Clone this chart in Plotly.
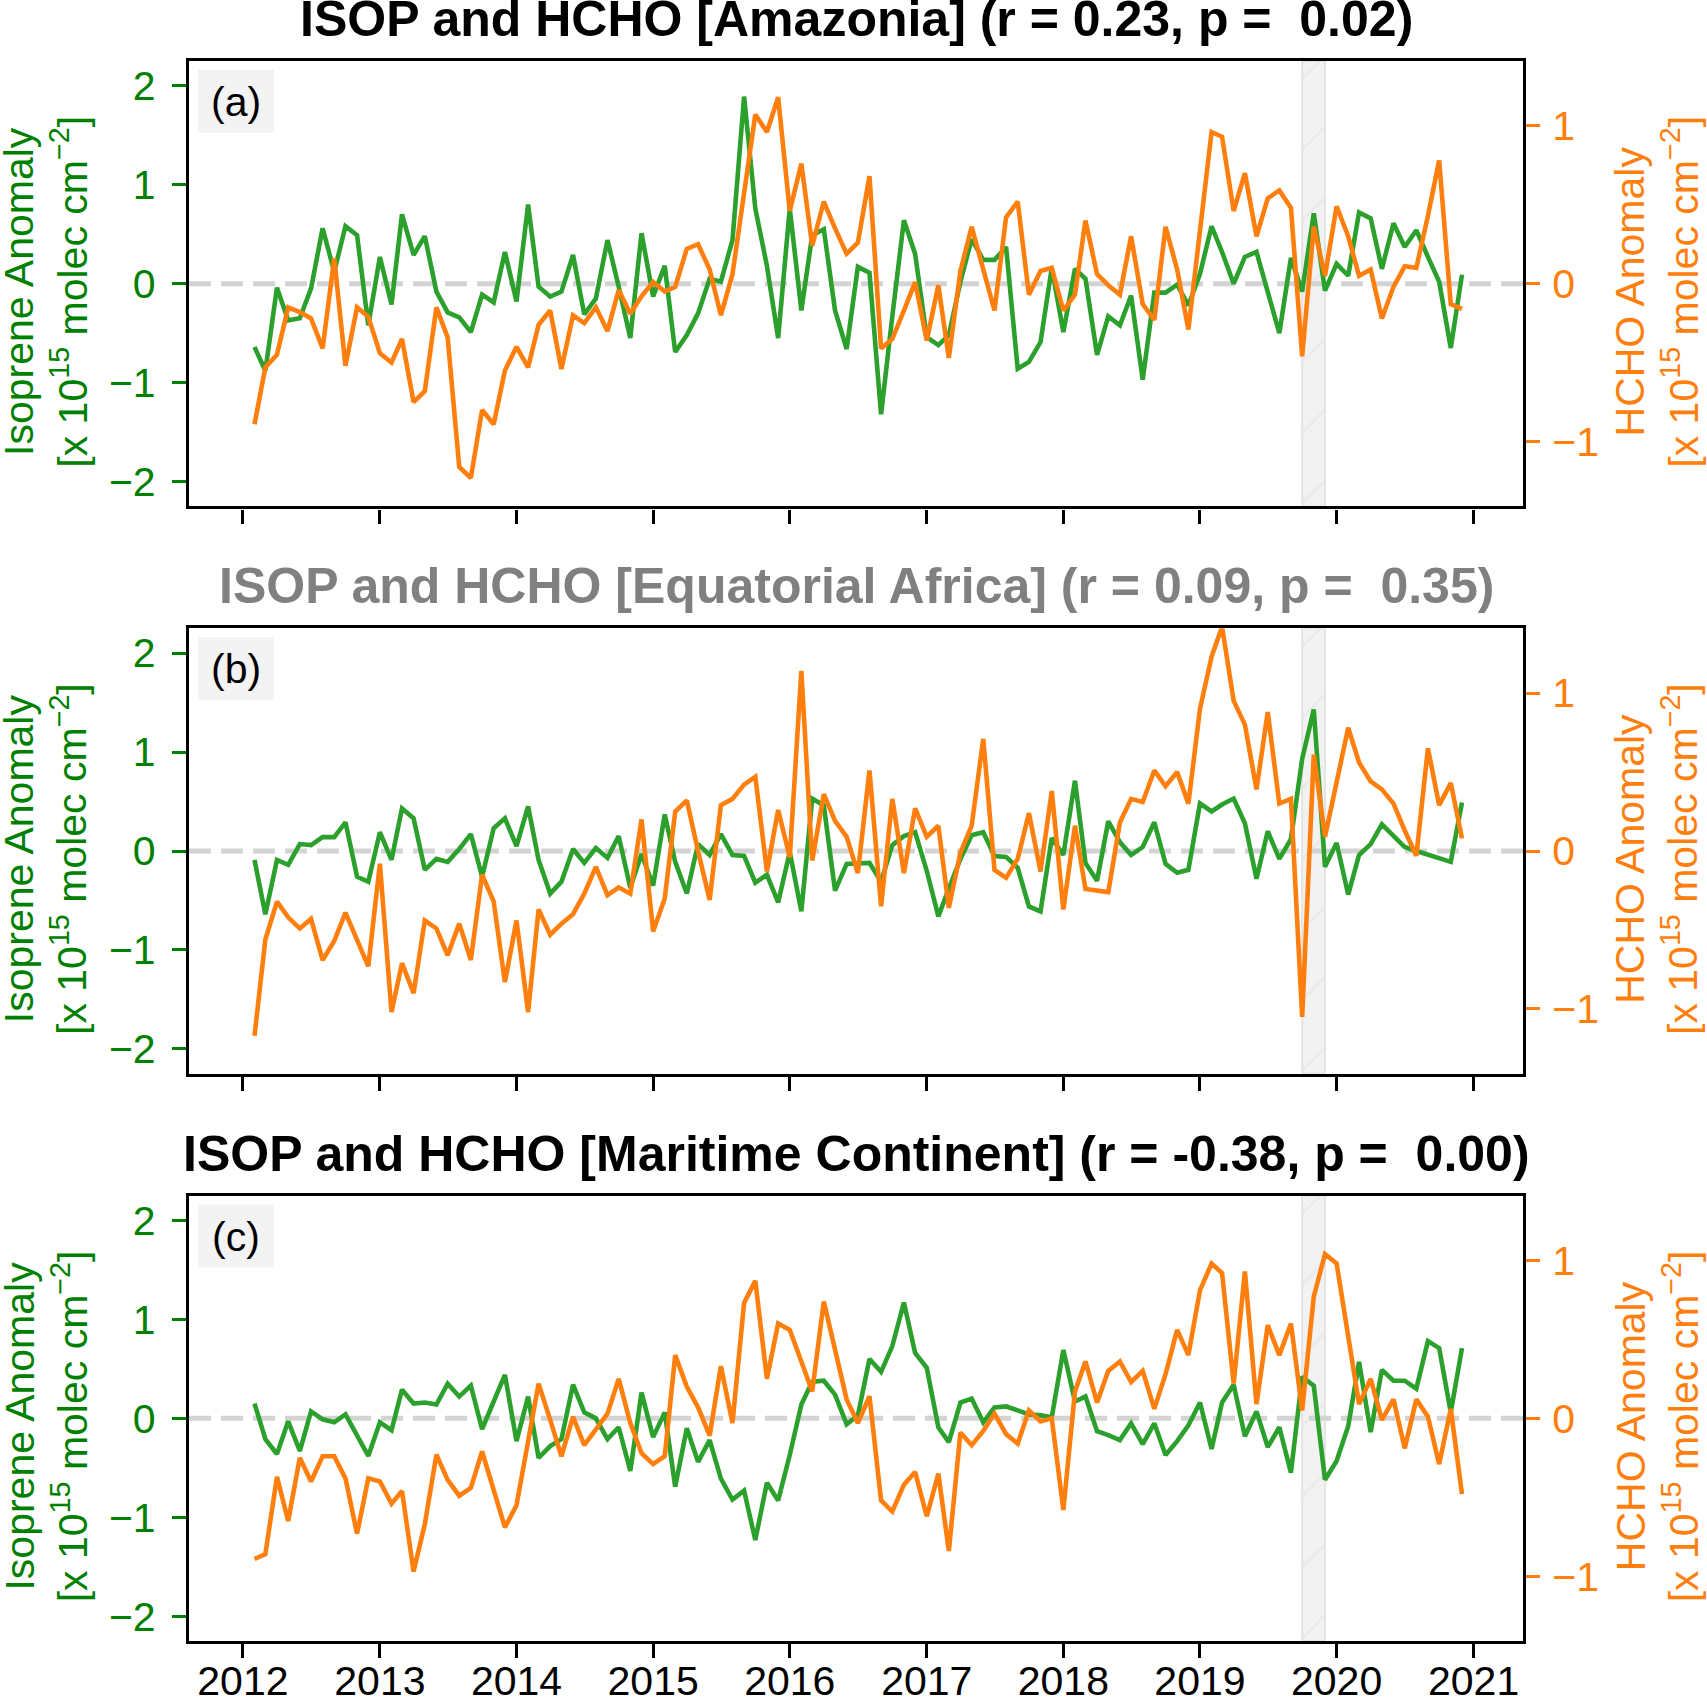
import pandas as pd
import plotly.graph_objects as go

# monthly anomalies, Feb 2012 .. Dec 2020
months = pd.date_range("2012-02-01", periods=107, freq="MS")

regions = ["Amazonia", "Equatorial Africa", "Maritime Continent"]
r_vals = ["0.23", "0.09", "-0.38"]
p_vals = ["0.02", "0.35", "0.00"]
panel_tags = ["(a)", "(b)", "(c)"]
title_colors = ["black", "gray", "black"]

isop_amz = [-0.64, -0.88, -0.04, -0.37, -0.35, -0.05, 0.56, 0.12, 0.58, 0.49,
            -0.42, 0.27, -0.21, 0.70, 0.29, 0.48, -0.08, -0.29, -0.34, -0.49,
            -0.11, -0.19, 0.32, -0.18, 0.80, -0.03, -0.13, -0.08, 0.29, -0.31,
            -0.15, 0.44, -0.03, -0.55, 0.51, -0.13, 0.18, -0.69, -0.52, -0.30,
            0.05, 0.02, 0.44, 1.89, 0.76, 0.18, -0.55, 0.76, -0.27, 0.49,
            0.55, -0.27, -0.66, 0.17, 0.11, -1.32, -0.33, 0.64, 0.30, -0.54,
            -0.62, -0.52, 0.02, 0.45, 0.24, 0.24, 0.37, -0.86, -0.79, -0.59,
            0.16, -0.49, 0.15, 0.05, -0.72, -0.33, -0.42, -0.12, -0.97, -0.09,
            -0.09, -0.01, -0.22, 0.10, 0.58, 0.32, 0.00, 0.27, 0.32, -0.08,
            -0.50, 0.26, -0.08, 0.71, -0.07, 0.20, 0.08, 0.72, 0.66, 0.15,
            0.61, 0.37, 0.54, 0.27, 0.02, -0.65, 0.09]
hcho_amz = [-0.89, -0.53, -0.45, -0.15, -0.18, -0.22, -0.41, 0.16, -0.52, -0.15,
            -0.21, -0.44, -0.50, -0.35, -0.75, -0.68, -0.15, -0.34, -1.16, -1.23,
            -0.80, -0.89, -0.55, -0.40, -0.53, -0.26, -0.17, -0.54, -0.20, -0.25,
            -0.15, -0.30, -0.04, -0.19, -0.08, 0.01, -0.05, -0.02, 0.22, 0.25,
            0.09, -0.20, 0.06, 0.58, 1.07, 0.96, 1.18, 0.46, 0.76, 0.24,
            0.52, 0.35, 0.19, 0.26, 0.68, -0.41, -0.35, -0.17, 0.01, -0.36,
            -0.01, -0.47, 0.08, 0.36, 0.09, -0.17, 0.42, 0.52, -0.07, 0.08,
            0.10, -0.17, -0.07, 0.40, 0.06, -0.01, -0.07, 0.30, -0.13, -0.23,
            0.36, 0.09, -0.29, 0.34, 0.96, 0.93, 0.46, 0.70, 0.30, 0.54,
            0.59, 0.48, -0.46, 0.36, 0.05, 0.49, 0.30, 0.05, 0.09, -0.22,
            -0.02, 0.11, 0.10, 0.43, 0.78, -0.13, -0.16]

isop_afr = [-0.09, -0.64, -0.09, -0.14, 0.07, 0.06, 0.14, 0.14, 0.29, -0.26,
            -0.31, 0.19, -0.09, 0.43, 0.33, -0.19, -0.08, -0.11, 0.02, 0.17,
            -0.26, 0.23, 0.33, 0.05, 0.45, -0.09, -0.43, -0.31, 0.02, -0.12,
            0.03, -0.07, 0.15, -0.37, -0.03, -0.35, 0.37, -0.11, -0.43, 0.07,
            -0.04, 0.17, -0.04, -0.05, -0.32, -0.24, -0.52, -0.01, -0.61, 0.53,
            0.46, -0.40, -0.13, -0.13, -0.12, -0.31, 0.06, 0.15, 0.19, -0.20,
            -0.66, -0.38, -0.08, 0.16, 0.19, -0.05, -0.06, -0.17, -0.56, -0.61,
            0.13, -0.04, 0.71, -0.12, -0.30, 0.30, 0.09, -0.04, 0.04, 0.29,
            -0.13, -0.22, -0.19, 0.48, 0.40, 0.47, 0.53, 0.28, -0.28, 0.20,
            -0.08, 0.12, 0.93, 1.43, -0.16, 0.08, -0.44, -0.04, 0.07, 0.27,
            0.16, 0.04, 0.00, -0.04, -0.08, -0.11, 0.49]
hcho_afr = [-1.17, -0.56, -0.32, -0.42, -0.49, -0.43, -0.69, -0.57, -0.39, -0.57,
            -0.73, -0.08, -1.02, -0.71, -0.90, -0.44, -0.49, -0.66, -0.46, -0.69,
            -0.15, -0.32, -0.83, -0.44, -1.02, -0.37, -0.53, -0.46, -0.40, -0.27,
            -0.10, -0.28, -0.23, -0.27, 0.20, -0.51, -0.30, 0.25, 0.32, 0.00,
            -0.31, 0.29, 0.33, 0.42, 0.47, -0.13, 0.26, -0.04, 1.14, -0.06,
            0.36, 0.19, 0.09, -0.14, 0.51, -0.35, 0.33, -0.14, 0.27, 0.09,
            0.16, -0.36, -0.01, 0.16, 0.71, -0.12, -0.17, -0.05, 0.24, -0.13,
            0.38, -0.37, 0.16, -0.24, -0.25, -0.26, 0.18, 0.33, 0.31, 0.51,
            0.41, 0.50, 0.30, 0.90, 1.23, 1.42, 0.95, 0.80, 0.39, 0.88,
            0.30, 0.33, -1.05, 0.61, 0.09, 0.44, 0.78, 0.56, 0.44, 0.39,
            0.30, 0.13, -0.03, 0.65, 0.29, 0.43, 0.08]

isop_mc = [0.15, -0.21, -0.36, -0.03, -0.33, 0.07, -0.01, -0.04, 0.04, -0.18,
           -0.38, -0.04, -0.12, 0.29, 0.15, 0.16, 0.14, 0.35, 0.22, 0.33,
           -0.11, 0.17, 0.44, -0.23, 0.22, -0.40, -0.28, -0.21, 0.34, 0.06,
           0.00, -0.21, -0.09, -0.53, 0.26, -0.19, 0.06, -0.69, -0.10, -0.44,
           -0.22, -0.61, -0.82, -0.73, -1.23, -0.65, -0.83, -0.37, 0.14, 0.37,
           0.38, 0.24, -0.06, 0.03, 0.60, 0.47, 0.73, 1.17, 0.66, 0.51,
           -0.09, -0.24, 0.16, 0.20, -0.04, 0.11, 0.12, 0.08, 0.04, 0.03,
           0.01, 0.69, 0.17, 0.22, -0.13, -0.17, -0.22, -0.05, -0.26, -0.05,
           -0.37, -0.23, -0.07, 0.16, -0.31, 0.16, 0.34, -0.18, 0.07, -0.29,
           -0.09, -0.55, 0.42, 0.33, -0.62, -0.43, -0.08, 0.57, -0.14, 0.49,
           0.38, 0.38, 0.30, 0.78, 0.71, 0.06, 0.71]
hcho_mc = [-0.89, -0.86, -0.37, -0.65, -0.25, -0.40, -0.24, -0.24, -0.38, -0.73,
           -0.38, -0.40, -0.54, -0.46, -0.97, -0.67, -0.23, -0.39, -0.49, -0.44,
           -0.21, -0.46, -0.69, -0.55, -0.15, 0.22, -0.01, -0.24, 0.01, -0.17,
           -0.07, 0.03, 0.25, -0.03, -0.22, -0.29, -0.24, 0.40, 0.20, 0.07,
           -0.11, 0.33, -0.03, 0.73, 0.87, 0.25, 0.60, 0.56, 0.36, 0.17,
           0.74, 0.45, 0.12, -0.03, 0.14, -0.52, -0.59, -0.42, -0.34, -0.62,
           -0.35, -0.84, -0.09, -0.17, -0.08, 0.03, -0.10, -0.16, 0.05, -0.02,
           0.00, -0.58, 0.17, 0.36, 0.10, 0.30, 0.36, 0.23, 0.30, 0.06,
           0.28, 0.56, 0.40, 0.81, 0.98, 0.92, 0.22, 0.93, 0.09, 0.59,
           0.40, 0.60, 0.05, 0.77, 1.04, 0.98, 0.54, 0.09, 0.25, -0.01,
           0.12, -0.19, 0.12, 0.01, -0.29, 0.06, -0.48]

isop_series = [isop_amz, isop_afr, isop_mc]
hcho_series = [hcho_amz, hcho_afr, hcho_mc]

year_ticks = [f"{y}-01-01" for y in range(2012, 2022)]
year_labels = [str(y) for y in range(2012, 2022)]
isop_ticks = [-2, -1, 0, 1, 2]
isop_tick_labels = ["\u22122", "\u22121", "0", "1", "2"]
hcho_ticks = [-1, 0, 1]
hcho_tick_labels = ["\u22121", "0", "1"]

x_range = ["2011-08-10", "2021-05-13"]
isop_range = [-2.25, 2.25]
hcho_range = [-1.41, 1.41]
event_start, event_end = pd.Timestamp("2019-10-01"), pd.Timestamp("2019-12-01")

W, H = 1707, 1704
FONT = "Liberation Sans, Arial, sans-serif"
GREEN_LINE, ORANGE = "#2ca02c", "#ff7f0e"
GREEN_TXT = "#008000"
left_px, right_px = 189, 1523
tops = [61, 629, 1197]
panel_h = 446

fig = go.Figure()
layout = dict(width=W, height=H, margin=dict(l=0, r=0, t=0, b=0),
              plot_bgcolor="white", paper_bgcolor="white",
              showlegend=False, font=dict(family=FONT, size=41, color="black"),
              annotations=[], shapes=[])

for k in range(3):
    xid = "x" if k == 0 else f"x{k + 1}"
    yl = "y" if k == 0 else f"y{2 * k + 1}"
    yr = f"y{2 * k + 2}"
    dom_y = [1 - (tops[k] + panel_h) / H, 1 - tops[k] / H]

    # shaded event period
    fig.add_trace(go.Bar(
        x=[event_start + (event_end - event_start) / 2],
        y=[isop_range[1] - isop_range[0]], base=[isop_range[0]],
        width=[(event_end - event_start).total_seconds() * 1000],
        marker=dict(color="#f2f2f2", line=dict(color="#e4e4e4", width=2),
                    pattern=dict(shape="/", bgcolor="#f2f2f2", fgcolor="#e2e2e2",
                                 size=50, solidity=0.05)),
        xaxis=xid, yaxis=yl, hoverinfo="skip"))
    # zero reference
    fig.add_trace(go.Scatter(x=x_range, y=[0, 0], mode="lines",
                             line=dict(color="#d3d3d3", width=5, dash="22px,10px"),
                             xaxis=xid, yaxis=yl, hoverinfo="skip"))
    fig.add_trace(go.Scatter(x=months, y=isop_series[k], mode="lines",
                             line=dict(color=GREEN_LINE, width=4.6),
                             xaxis=xid, yaxis=yl))
    fig.add_trace(go.Scatter(x=months, y=hcho_series[k], mode="lines",
                             line=dict(color=ORANGE, width=4.6),
                             xaxis=xid, yaxis=yr))

    xname = "xaxis" if k == 0 else f"xaxis{k + 1}"
    ylname = "yaxis" if k == 0 else f"yaxis{2 * k + 1}"
    yrname = f"yaxis{2 * k + 2}"
    layout[xname] = dict(
        type="date", range=x_range, domain=[left_px / W, right_px / W], anchor=yl,
        tickvals=year_ticks, ticktext=year_labels, showticklabels=(k == 2),
        ticks="outside", ticklen=14, tickwidth=3.3, tickcolor="black",
        tickfont=dict(size=41, color="black"), ticklabelstandoff=-12,
        showline=True, linecolor="black", linewidth=3.3, mirror=True,
        showgrid=False, zeroline=False)
    layout[ylname] = dict(
        range=isop_range, domain=dom_y, anchor=xid,
        tickvals=isop_ticks, ticktext=isop_tick_labels,
        ticks="outside", ticklen=14, tickwidth=3.3, tickcolor=GREEN_TXT,
        tickfont=dict(size=41, color=GREEN_TXT), ticklabelstandoff=8,
        showline=True, linecolor="black", linewidth=3.3,
        showgrid=False, zeroline=False)
    layout[yrname] = dict(
        range=hcho_range, overlaying=yl, side="right", anchor=xid,
        tickvals=hcho_ticks, ticktext=hcho_tick_labels,
        ticks="outside", ticklen=14, tickwidth=3.3, tickcolor=ORANGE,
        tickfont=dict(size=41, color=ORANGE), ticklabelstandoff=4,
        showline=True, linecolor="black", linewidth=3.3,
        showgrid=False, zeroline=False)

    # title
    title = f"<b>ISOP and HCHO [{regions[k]}] (r = {r_vals[k]}, p = \u00a0{p_vals[k]})</b>"
    layout["annotations"].append(dict(
        text=title, xref="paper", yref="paper",
        x=(left_px + right_px) / 2 / W, y=1 - (tops[k] - 12) / H,
        xanchor="center", yanchor="bottom", showarrow=False,
        font=dict(size=50, color=title_colors[k], family=FONT)))
    # panel tag in a light box
    layout["shapes"].append(dict(
        type="rect", xref=f"{xid} domain", yref=f"{yl} domain",
        x0=9 / 1334, x1=85 / 1334, y0=1 - 72 / panel_h, y1=1 - 9 / panel_h,
        fillcolor="#f3f3f3", line=dict(width=0), layer="below"))
    layout["annotations"].append(dict(
        text=panel_tags[k], xref=f"{xid} domain", yref=f"{yl} domain",
        x=47 / 1334, y=1 - 41 / panel_h, xanchor="center", yanchor="middle",
        showarrow=False, font=dict(size=41, color="black", family=FONT)))
    # axis labels
    yc = 1 - (tops[k] + panel_h / 2 + 8) / H
    layout["annotations"].append(dict(
        text="Isoprene Anomaly<br>[x 10<sup>15</sup> molec cm<sup>\u22122</sup>]",
        xref="paper", yref="paper", x=46 / W, y=yc, textangle=-90,
        xanchor="center", yanchor="middle", showarrow=False,
        font=dict(size=41, color=GREEN_TXT, family=FONT)))
    layout["annotations"].append(dict(
        text="HCHO Anomaly<br>[x 10<sup>15</sup> molec cm<sup>\u22122</sup>]",
        xref="paper", yref="paper", x=1657 / W, y=yc, textangle=-90,
        xanchor="center", yanchor="middle", showarrow=False,
        font=dict(size=41, color=ORANGE, family=FONT)))

fig.update_layout(**layout)
fig.write_html("out.html", config={"displayModeBar": False},
               post_script="document.body.style.margin='0px';")
